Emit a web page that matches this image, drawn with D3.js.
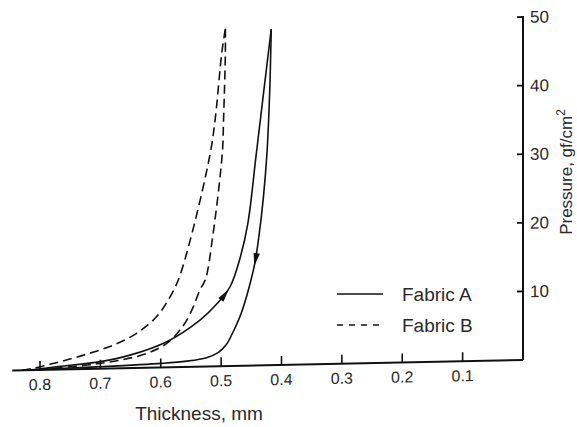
<html>
<head>
<script src="https://d3js.org/d3.v7.min.js"></script>
<style>
  body { margin: 0; background: #fff; }
  text { font-family: "Liberation Sans", Arial, sans-serif; fill: #2a2a2a; }
</style>
</head>
<body>
<div id="chart"></div>
<script>
// values (thickness in mm, pressure in gf/cm2)
var thickA_load   = [0.82, 0.77, 0.70, 0.651, 0.590, 0.535, 0.505, 0.485, 0.470, 0.456, 0.4425, 0.430, 0.417];
var pressA_load   = [0,    0.45, 1.04, 1.9,   3.75,  6.8,   9.3,   11.6,  15.3,  20.6,  30.3,   39.5,  49];
var thickA_unload = [0.417, 0.4195, 0.424, 0.430, 0.4376, 0.444, 0.455, 0.467, 0.480, 0.491, 0.505, 0.524, 0.557, 0.598, 0.70, 0.778, 0.82];
var pressA_unload = [49,    40,     31,    24.5,  18.7,   15,    11,    7.6,   5.0,   3.2,   2.0,   1.3,   0.85,  0.6,   0.3,  0.15,  0];
var thickB_load   = [0.83, 0.811, 0.767, 0.722, 0.678, 0.640, 0.607, 0.586, 0.571, 0.547, 0.518, 0.51, 0.499, 0.493];
var pressB_load   = [0,    0.26,  1.15,  2.19,  3.43,  5.06,  7.42,  10.06, 12.7,  19.9,  31.1,  35.9, 45.6,  49.2];
var thickB_unload = [0.493, 0.493, 0.496, 0.498, 0.514, 0.526, 0.535, 0.551, 0.568, 0.590, 0.623, 0.667, 0.722, 0.80];
var pressB_unload = [49.2,  45.6,  35.9,  31.1,  18.9,  12.7,  11.2,  7.8,   5.4,   3.5,   2.1,   1.2,   0.58,  0.1];

var xTicks = [0.1, 0.2, 0.3, 0.4, 0.5, 0.6, 0.7, 0.8];
var yTicks = [10, 20, 30, 40, 50];
var legendNames = ["Fabric A", "Fabric B"];
// arrow marks on the Fabric A loop, placed at these pressures
var arrowPress = {load: 10.6, unload: 15.2};

var width = 577, height = 427;

var svg = d3.select("#chart").append("svg")
    .attr("width", width)
    .attr("height", height);

var x = d3.scaleLinear().domain([0, 0.8]).range([523, 40]);
var y = d3.scaleLinear().domain([0, 50]).range([360, 17]);

// the scan is slightly sheared: baseline drops toward the left
var plot = svg.append("g")
    .attr("transform", "translate(523,0) skewY(-1.19) translate(-523,0)");

function pts(t, p){ return t.map(function(d, i){ return [d, p[i]]; }); }

var line = d3.line()
    .x(function(d){ return x(d[0]); })
    .y(function(d){ return y(d[1]); })
    .curve(d3.curveCatmullRom.alpha(0.5));

// x axis, reversed, ticks pointing up
plot.append("line")
    .attr("x1", x(0.846)).attr("x2", x(0))
    .attr("y1", y(0)).attr("y2", y(0))
    .attr("stroke", "#111").attr("stroke-width", 2);

plot.selectAll("line.xtick").data(xTicks).enter().append("line")
    .attr("class", "xtick")
    .attr("x1", function(d){ return x(d); }).attr("x2", function(d){ return x(d); })
    .attr("y1", y(0)).attr("y2", y(0) - 9)
    .attr("stroke", "#111").attr("stroke-width", 1.6);

plot.selectAll("text.xlab").data(xTicks).enter().append("text")
    .attr("class", "xlab")
    .attr("x", function(d){ return x(d); })
    .attr("y", y(0) + 20)
    .attr("text-anchor", "middle")
    .attr("font-size", 16)
    .text(function(d){ return d3.format(".1f")(d); });

// y axis on the right
plot.append("line")
    .attr("x1", x(0)).attr("x2", x(0))
    .attr("y1", y(0)).attr("y2", y(50))
    .attr("stroke", "#111").attr("stroke-width", 2);

plot.selectAll("line.ytick").data(yTicks).enter().append("line")
    .attr("class", "ytick")
    .attr("x1", x(0) - 6).attr("x2", x(0) + 1)
    .attr("y1", function(d){ return y(d); }).attr("y2", function(d){ return y(d); })
    .attr("stroke", "#111").attr("stroke-width", 1.8);

plot.selectAll("text.ylab").data(yTicks).enter().append("text")
    .attr("class", "ylab")
    .attr("x", x(0) + 7)
    .attr("y", function(d){ return y(d) + 6; })
    .attr("font-size", 17)
    .text(function(d){ return d; });

// curves
var curves = [
  {name: "A", part: "load",   data: pts(thickA_load, pressA_load),     dash: null},
  {name: "A", part: "unload", data: pts(thickA_unload, pressA_unload), dash: null},
  {name: "B", part: "load",   data: pts(thickB_load, pressB_load),     dash: "9,5"},
  {name: "B", part: "unload", data: pts(thickB_unload, pressB_unload), dash: "9,5"}
];

var paths = plot.selectAll("path.curve").data(curves).enter().append("path")
    .attr("class", "curve")
    .attr("d", function(d){ return line(d.data); })
    .attr("fill", "none")
    .attr("stroke", "#111")
    .attr("stroke-width", 1.6)
    .attr("stroke-dasharray", function(d){ return d.dash; });

// arrowheads on Fabric A, pointing along the path direction
paths.filter(function(d){ return d.name == "A"; }).each(function(d){
  var node = this, len = node.getTotalLength();
  var target = y(arrowPress[d.part]);
  var best = 0, bestDist = 1e9;
  for (var s = 0; s <= len; s += 0.5){
    var p = node.getPointAtLength(s);
    if (Math.abs(p.y - target) < bestDist){ bestDist = Math.abs(p.y - target); best = s; }
  }
  var a = node.getPointAtLength(Math.max(0, best - 3));
  var b = node.getPointAtLength(Math.min(len, best + 3));
  var c = node.getPointAtLength(best);
  var ang = Math.atan2(b.y - a.y, b.x - a.x) * 180 / Math.PI;
  plot.append("path")
    .attr("d", "M5,0 L-8,-3.2 L-8,3.2 Z")
    .attr("fill", "#111")
    .attr("transform", "translate(" + c.x + "," + c.y + ") rotate(" + ang + ")");
});

// axis titles
svg.append("text")
    .attr("x", 199).attr("y", 420)
    .attr("text-anchor", "middle")
    .attr("font-size", 19)
    .text("Thickness, mm");

var ytitle = svg.append("text")
    .attr("transform", "translate(572,172) rotate(-90)")
    .attr("text-anchor", "middle")
    .attr("font-size", 17);
ytitle.append("tspan").text("Pressure, gf/cm");
ytitle.append("tspan").attr("font-size", 12).attr("dy", -7).text("2");

// legend
var legend = svg.selectAll("g.legend").data(legendNames).enter().append("g")
    .attr("class", "legend")
    .attr("transform", function(d, i){ return "translate(337," + (294 + i * 31) + ")"; });

legend.append("line")
    .attr("x1", 0).attr("x2", 46)
    .attr("stroke", "#111").attr("stroke-width", 1.6)
    .attr("stroke-dasharray", function(d, i){ return i == 1 ? "6,6" : null; });

legend.append("text")
    .attr("x", 65).attr("y", 7)
    .attr("font-size", 19)
    .text(function(d){ return d; });
</script>
</body>
</html>
